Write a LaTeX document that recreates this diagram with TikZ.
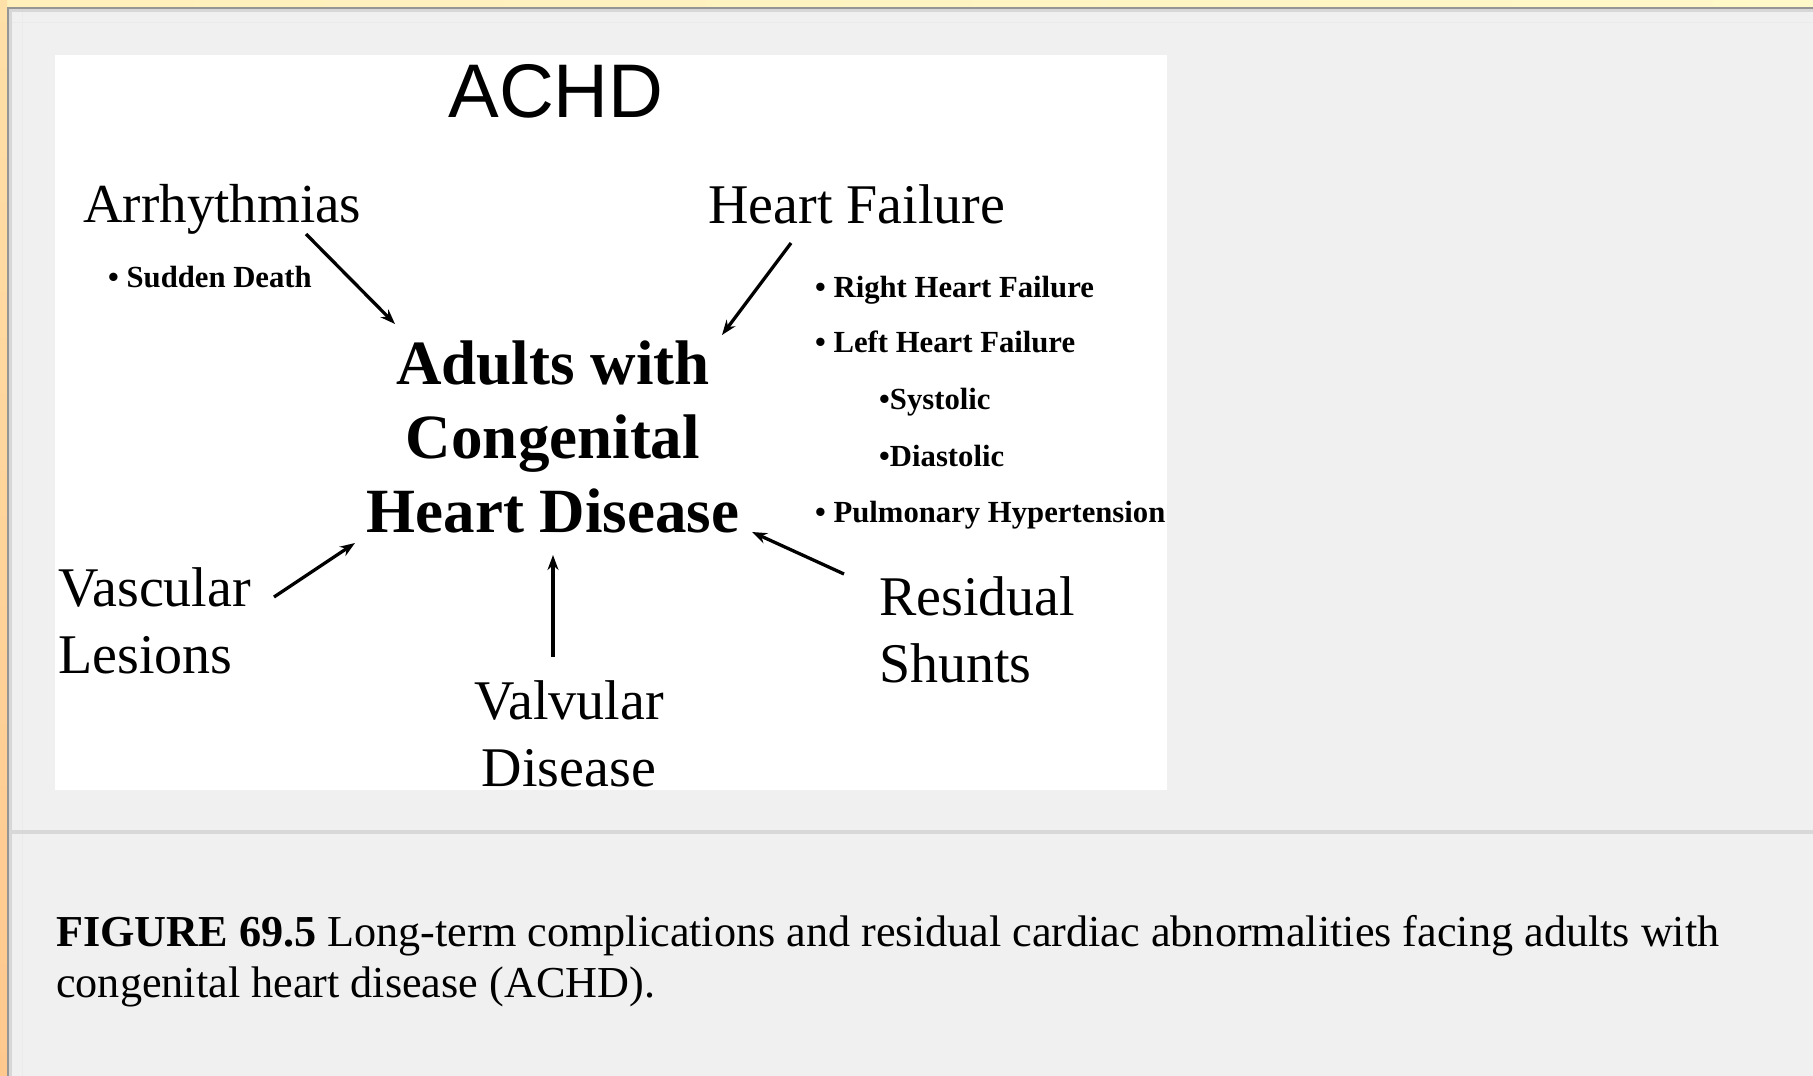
\documentclass[tikz,border=0pt]{standalone}
\usepackage{fontspec}
\setmainfont{Liberation Serif}
\newfontfamily\achdsans{Liberation Sans}
\usetikzlibrary{arrows.meta}
\definecolor{panelgray}{HTML}{F0F0F0}
\definecolor{topband}{HTML}{FFEFBA}
\definecolor{topbandr}{HTML}{FFF8C8}
\definecolor{leftband}{HTML}{FFE0A8}
\definecolor{leftbandb}{HTML}{FFC88E}
\definecolor{edgegray}{HTML}{7A7A7A}
\definecolor{sepgray}{HTML}{D8D8D8}
\tikzset{
  biglabel/.style={inner sep=0pt, font=\fontsize{56}{67}\selectfont, align=left},
  bullet/.style={inner sep=0pt, anchor=base west, font=\fontsize{30.7}{34}\selectfont\bfseries},
  conn/.style={line width=3.3pt, -{Stealth[length=15pt,width=11pt]}},
}
\begin{document}
\begin{tikzpicture}[x=1pt,y=-1pt]
\useasboundingbox (0,0) rectangle (1813,1076);
% frame
\fill[panelgray] (0,0) rectangle (1813,1076);
\shade[left color=topband, right color=topbandr] (0,0) rectangle (1813,7);
\shade[top color=leftband, bottom color=leftbandb] (0,0) rectangle (7,1076);
\fill[edgegray!80] (7,7) rectangle (1813,9);
\fill[edgegray!80] (7,7) rectangle (9,1076);
\fill[edgegray!30] (9,9) rectangle (1813,12);
\fill[edgegray!30] (9,9) rectangle (12,1076);
\draw[white!92!black, line width=1pt] (12,22) -- (1813,22);
\draw[white!92!black, line width=1pt] (22,12) -- (22,1076);
% white figure area
\fill[white] (55,55) rectangle (1167,790);
% separator
\fill[sepgray] (12,830) rectangle (1813,834);

% title
\node[inner sep=0pt, anchor=base, font=\achdsans\fontsize{76}{80}\selectfont] (achd) at (556,117) {ACHD};

% center (base anchor = baseline of last line)
\node[inner sep=0pt, anchor=base, align=center, font=\fontsize{63}{74}\selectfont\bfseries] (center) at (553,532) {Adults with\\Congenital\\Heart Disease};

% outer labels
\node[biglabel, anchor=base west, font=\fontsize{55}{66}\selectfont] (arr) at (83,222) {Arrhythmias};
\node[bullet] (sd) at (108,287) {\textbullet\ Sudden Death};
\node[biglabel, anchor=base west] (hf) at (708,223) {Heart Failure};
\node[bullet] (rhf) at (815,297) {\textbullet\ Right Heart Failure};
\node[bullet] (lhf) at (815,352) {\textbullet\ Left Heart Failure};
\node[bullet] (sys) at (879,409) {\textbullet Systolic};
\node[bullet] (dia) at (879,466) {\textbullet Diastolic};
\node[bullet] (ph) at (815,522) {\textbullet\ Pulmonary Hypertension};
\node[biglabel, anchor=base west] (vasc) at (58,673) {Vascular\\Lesions};
\node[biglabel, anchor=base, align=center] (valv) at (569,786) {Valvular\\Disease};
\node[biglabel, anchor=base west] (resid) at (879,682) {Residual\\Shunts};

% connector end points
\coordinate (arrS) at (306,234);
\coordinate (arrE) at (395,324);
\coordinate (hfS) at (791,243);
\coordinate (hfE) at (722,335);
\coordinate (vascS) at (274,597);
\coordinate (vascE) at (355,543);
\coordinate (valvS) at (553,657);
\coordinate (valvE) at (553,555);
\coordinate (residS) at (844,574);
\coordinate (residE) at (752,532);
\draw[conn] (arrS) -- (arrE);
\draw[conn] (hfS) -- (hfE);
\draw[conn] (vascS) -- (vascE);
\draw[conn] (valvS) -- (valvE);
\draw[conn] (residS) -- (residE);

% caption
\node[inner sep=0pt, anchor=base west, align=left, font=\fontsize{44.2}{51}\selectfont] (cap) at (56,997)
  {\textbf{FIGURE 69.5} Long-term complications and residual cardiac abnormalities facing adults with\\congenital heart disease (ACHD).};
\end{tikzpicture}
\end{document}
